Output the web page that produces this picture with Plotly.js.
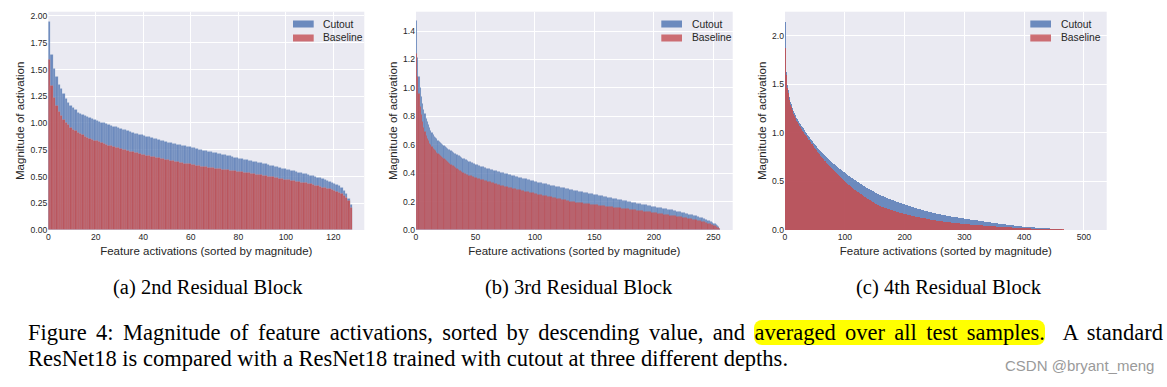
<!DOCTYPE html>
<html>
<head>
<meta charset="utf-8">
<script src="https://cdn.plot.ly/plotly-3.0.1.min.js"></script>
<style>
html,body{margin:0;padding:0;background:#fff;}
#wrap{position:relative;width:1167px;height:387px;overflow:hidden;background:#fff;}
#chart{position:absolute;left:0;top:0;width:1167px;height:387px;}
.cap{position:absolute;font-family:"Liberation Serif","Times New Roman",serif;font-size:22.5px;line-height:26px;color:#000;}
#cap1{left:28px;top:320px;width:1135px;text-align:justify;text-align-last:justify;}
#cap2{left:28px;top:346px;white-space:nowrap;}
.hl{background:#ffff00;border-radius:8px;}
#wm{position:absolute;left:1005px;top:357px;font-family:"Liberation Sans",Arial,sans-serif;font-size:15px;color:#9a9a9a;white-space:nowrap;}
</style>
</head>
<body>
<div id="wrap">
<div id="chart"></div>
<div class="cap" id="cap1">Figure 4: Magnitude of feature activations, sorted by descending value, and <span class="hl">averaged over all test samples.</span>&nbsp; A standard</div>
<div class="cap" id="cap2">ResNet18 is compared with a ResNet18 trained with cutout at three different depths.</div>
<div id="wm">CSDN @bryant_meng</div>
</div>
<script>
// ---------------- DATA ----------------
const seriesNames = ["Cutout", "Baseline"];
const xTitle = "Feature activations (sorted by magnitude)";
const yTitle = "Magnitude of activation";
const subCaptions = ["(a) 2nd Residual Block", "(b) 3rd Residual Block", "(c) 4th Residual Block"];

// (a) 2nd residual block: 128 channels
const p1Cutout = [1.95,1.64,1.51,1.43,1.36,1.32,1.27,1.23,1.19,1.16,
1.14,1.12,1.10,1.09,1.075,1.065,1.055,1.045,1.04,1.03,
1.025,1.015,1.005,1.0,0.99,0.985,0.978,0.97,0.963,0.956,
0.95,0.942,0.934,0.926,0.918,0.91,0.904,0.898,0.892,0.886,
0.88,0.874,0.868,0.862,0.856,0.85,0.844,0.838,0.832,0.826,
0.82,0.815,0.81,0.805,0.80,0.795,0.79,0.785,0.78,0.775,
0.77,0.765,0.76,0.755,0.75,0.745,0.74,0.735,0.73,0.725,
0.72,0.715,0.71,0.705,0.70,0.695,0.69,0.685,0.68,0.675,
0.67,0.665,0.66,0.655,0.65,0.645,0.64,0.635,0.63,0.625,
0.62,0.615,0.61,0.605,0.60,0.595,0.589,0.583,0.577,0.571,
0.565,0.56,0.555,0.55,0.545,0.54,0.534,0.528,0.522,0.516,
0.51,0.504,0.498,0.492,0.486,0.48,0.472,0.464,0.455,0.445,
0.435,0.425,0.41,0.395,0.37,0.34,0.29,0.235];
const p1Baseline = [1.59,1.35,1.24,1.16,1.11,1.07,1.03,1.00,0.98,0.96,
0.94,0.925,0.91,0.898,0.886,0.875,0.866,0.857,0.848,0.839,
0.83,0.822,0.814,0.806,0.798,0.79,0.784,0.778,0.772,0.766,
0.76,0.754,0.748,0.742,0.736,0.73,0.724,0.718,0.712,0.706,
0.70,0.696,0.691,0.687,0.682,0.678,0.673,0.669,0.664,0.66,
0.655,0.651,0.646,0.642,0.637,0.633,0.628,0.624,0.619,0.615,
0.61,0.606,0.603,0.599,0.596,0.592,0.589,0.585,0.582,0.578,
0.575,0.572,0.569,0.566,0.563,0.56,0.557,0.554,0.551,0.548,
0.545,0.541,0.538,0.534,0.531,0.527,0.524,0.52,0.517,0.513,
0.51,0.506,0.502,0.498,0.494,0.49,0.486,0.482,0.478,0.474,
0.47,0.466,0.462,0.458,0.454,0.45,0.446,0.442,0.438,0.434,
0.43,0.424,0.418,0.412,0.406,0.40,0.394,0.388,0.382,0.376,
0.37,0.36,0.35,0.34,0.325,0.305,0.27,0.21];

// (b) 3rd residual block: 256 channels
const p2Cutout = [1.47,1.21,1.08,1.00,0.935,0.89,0.85,0.815,0.785,0.76,
0.74,0.72,0.70,0.685,0.672,0.66,0.65,0.64,0.631,0.623,
0.615,0.608,0.601,0.594,0.587,0.58,0.574,0.568,0.562,0.556,
0.55,0.545,0.54,0.535,0.53,0.525,0.52,0.515,0.51,0.505,
0.50,0.496,0.492,0.488,0.484,0.48,0.476,0.472,0.468,0.464,
0.46,0.457,0.454,0.451,0.448,0.445,0.442,0.439,0.436,0.433,
0.43,0.428,0.425,0.423,0.421,0.418,0.416,0.414,0.411,0.409,
0.407,0.404,0.402,0.4,0.397,0.395,0.393,0.391,0.388,0.386,
0.384,0.382,0.38,0.377,0.375,0.373,0.371,0.369,0.366,0.364,
0.362,0.36,0.358,0.355,0.353,0.351,0.349,0.347,0.344,0.342,
0.34,0.338,0.336,0.334,0.332,0.331,0.329,0.327,0.325,0.323,
0.321,0.319,0.317,0.315,0.314,0.312,0.31,0.308,0.306,0.304,
0.302,0.3,0.299,0.297,0.295,0.293,0.291,0.289,0.288,0.286,
0.284,0.282,0.28,0.279,0.277,0.275,0.273,0.271,0.27,0.268,
0.266,0.264,0.262,0.261,0.259,0.257,0.255,0.253,0.252,0.25,
0.248,0.246,0.245,0.243,0.241,0.239,0.238,0.236,0.234,0.233,
0.231,0.229,0.227,0.226,0.224,0.222,0.221,0.219,0.217,0.215,
0.214,0.212,0.21,0.209,0.207,0.205,0.203,0.202,0.2,0.198,
0.197,0.195,0.193,0.192,0.19,0.188,0.186,0.185,0.183,0.181,
0.18,0.178,0.176,0.175,0.173,0.171,0.17,0.168,0.166,0.165,
0.163,0.161,0.16,0.158,0.157,0.155,0.154,0.152,0.151,0.149,
0.148,0.146,0.145,0.143,0.142,0.14,0.138,0.136,0.134,0.132,
0.13,0.128,0.126,0.124,0.122,0.12,0.118,0.116,0.113,0.111,
0.109,0.107,0.105,0.102,0.1,0.098,0.095,0.093,0.09,0.088,
0.085,0.082,0.078,0.075,0.072,0.068,0.064,0.06,0.056,0.052,
0.047,0.042,0.036,0.03,0.021,0.012];
const p2Baseline = [1.24,1.08,0.96,0.87,0.81,0.76,0.72,0.69,0.665,0.645,
0.625,0.61,0.598,0.586,0.575,0.565,0.555,0.546,0.537,0.528,
0.52,0.513,0.506,0.499,0.492,0.485,0.479,0.473,0.467,0.461,
0.455,0.449,0.443,0.437,0.431,0.425,0.42,0.414,0.409,0.403,
0.398,0.395,0.392,0.388,0.385,0.382,0.379,0.376,0.372,0.369,
0.366,0.364,0.361,0.359,0.356,0.354,0.352,0.349,0.347,0.344,
0.342,0.34,0.337,0.335,0.332,0.33,0.327,0.325,0.322,0.32,
0.317,0.315,0.312,0.31,0.307,0.305,0.303,0.301,0.299,0.297,
0.295,0.293,0.291,0.289,0.287,0.285,0.283,0.281,0.279,0.277,
0.275,0.273,0.271,0.269,0.267,0.265,0.263,0.261,0.259,0.257,
0.255,0.253,0.251,0.25,0.248,0.246,0.244,0.242,0.241,0.239,
0.237,0.235,0.233,0.232,0.23,0.228,0.226,0.224,0.223,0.221,
0.219,0.217,0.215,0.214,0.212,0.21,0.208,0.206,0.204,0.202,
0.2,0.199,0.198,0.196,0.195,0.194,0.193,0.192,0.191,0.19,
0.188,0.187,0.186,0.185,0.184,0.183,0.181,0.18,0.179,0.178,
0.177,0.176,0.175,0.174,0.173,0.172,0.17,0.169,0.168,0.167,
0.166,0.165,0.164,0.163,0.162,0.161,0.16,0.159,0.158,0.156,
0.155,0.154,0.153,0.152,0.151,0.15,0.149,0.148,0.147,0.146,
0.145,0.144,0.143,0.142,0.141,0.139,0.138,0.137,0.136,0.135,
0.134,0.132,0.131,0.13,0.129,0.128,0.127,0.126,0.125,0.123,
0.122,0.121,0.119,0.118,0.117,0.115,0.114,0.113,0.111,0.11,
0.108,0.107,0.106,0.104,0.103,0.102,0.1,0.099,0.098,0.096,
0.095,0.094,0.092,0.091,0.089,0.088,0.086,0.084,0.082,0.08,
0.079,0.077,0.075,0.073,0.071,0.069,0.067,0.066,0.064,0.062,
0.06,0.058,0.055,0.052,0.049,0.047,0.044,0.041,0.038,0.035,
0.032,0.028,0.024,0.019,0.014,0.008];

// (c) 4th residual block: 512 channels
const p3Cutout = [2.145,1.85,1.63,1.55,1.49,1.44,1.405,1.375,1.345,1.32,1.30,
1.28,1.262,1.244,1.227,1.21,1.196,1.183,1.17,1.157,1.145,
1.135,1.125,1.115,1.105,1.095,1.086,1.077,1.068,1.059,1.05,
1.04,1.031,1.022,1.012,1.003,0.994,0.985,0.976,0.967,0.958,
0.95,0.942,0.934,0.925,0.917,0.909,0.901,0.893,0.885,0.877,
0.87,0.863,0.856,0.849,0.842,0.836,0.829,0.822,0.815,0.808,
0.802,0.796,0.79,0.784,0.778,0.772,0.766,0.76,0.754,0.748,
0.742,0.736,0.731,0.725,0.719,0.713,0.707,0.702,0.696,0.69,
0.685,0.68,0.674,0.669,0.664,0.659,0.654,0.648,0.643,0.638,
0.633,0.628,0.624,0.619,0.614,0.609,0.604,0.6,0.595,0.59,
0.586,0.581,0.577,0.572,0.568,0.563,0.559,0.554,0.55,0.545,
0.541,0.536,0.532,0.527,0.523,0.518,0.514,0.509,0.505,0.5,
0.496,0.492,0.488,0.484,0.48,0.476,0.472,0.468,0.464,0.46,
0.457,0.453,0.45,0.446,0.443,0.439,0.436,0.432,0.429,0.425,
0.422,0.418,0.415,0.411,0.408,0.404,0.401,0.397,0.394,0.39,
0.387,0.384,0.381,0.378,0.375,0.372,0.369,0.366,0.363,0.36,
0.357,0.355,0.352,0.349,0.347,0.344,0.341,0.338,0.336,0.333,
0.331,0.328,0.326,0.324,0.321,0.319,0.317,0.315,0.312,0.31,
0.308,0.305,0.303,0.301,0.298,0.296,0.294,0.292,0.289,0.287,
0.285,0.283,0.28,0.278,0.276,0.274,0.272,0.269,0.267,0.265,
0.263,0.261,0.259,0.257,0.255,0.253,0.251,0.249,0.247,0.245,
0.243,0.241,0.239,0.237,0.235,0.233,0.231,0.229,0.227,0.225,
0.223,0.222,0.22,0.218,0.217,0.215,0.213,0.212,0.21,0.208,
0.207,0.205,0.203,0.202,0.2,0.198,0.197,0.195,0.193,0.192,
0.19,0.188,0.187,0.185,0.183,0.182,0.18,0.178,0.177,0.175,
0.174,0.173,0.171,0.17,0.169,0.168,0.167,0.165,0.164,0.163,
0.162,0.161,0.159,0.158,0.157,0.156,0.155,0.153,0.152,0.151,
0.15,0.149,0.147,0.146,0.145,0.144,0.143,0.142,0.141,0.14,
0.139,0.138,0.137,0.136,0.135,0.134,0.133,0.132,0.131,0.13,
0.129,0.128,0.127,0.126,0.125,0.124,0.123,0.122,0.121,0.12,
0.119,0.118,0.117,0.116,0.115,0.114,0.114,0.113,0.112,0.111,
0.11,0.109,0.108,0.107,0.106,0.105,0.104,0.103,0.102,0.101,
0.101,0.1,0.099,0.098,0.097,0.096,0.095,0.094,0.093,0.093,
0.092,0.091,0.09,0.089,0.088,0.087,0.086,0.086,0.085,0.084,
0.083,0.082,0.081,0.08,0.079,0.079,0.078,0.077,0.076,0.075,
0.074,0.073,0.073,0.072,0.071,0.07,0.069,0.069,0.068,0.067,
0.066,0.065,0.065,0.064,0.063,0.062,0.061,0.061,0.06,0.059,
0.058,0.057,0.057,0.056,0.055,0.054,0.054,0.053,0.052,0.051,
0.051,0.05,0.049,0.049,0.048,0.047,0.046,0.046,0.045,0.044,
0.043,0.043,0.042,0.041,0.041,0.04,0.039,0.038,0.038,0.037,
0.037,0.036,0.036,0.035,0.035,0.034,0.034,0.033,0.033,0.032,
0.032,0.031,0.031,0.03,0.03,0.029,0.029,0.028,0.028,0.027,
0.027,0.026,0.026,0.025,0.025,0.025,0.024,0.024,0.024,0.023,
0.023,0.022,0.022,0.022,0.021,0.021,0.021,0.02,0.02,0.02,
0.019,0.019,0.019,0.018,0.018,0.018,0.018,0.017,0.017,0.017,
0.017,0.016,0.016,0.016,0.015,0.015,0.015,0.014,0.014,0.014,
0.013,0.013,
0,0,0,0,0,0,0,0,0,0,
0,0,0,0,0,0,0,0,0,0,
0,0,0,0,0,0,0,0,0,0,
0,0,0,0,0,0,0,0,0,0,
0,0,0,0,0,0,0,0,0];
const p3Baseline = [1.88,1.68,1.6,1.52,1.46,1.41,1.375,1.345,1.315,1.29,1.27,
1.252,1.234,1.216,1.198,1.18,1.166,1.152,1.138,1.124,1.11,
1.1,1.09,1.08,1.07,1.06,1.05,1.04,1.03,1.02,1.01,
1.002,0.993,0.985,0.976,0.968,0.959,0.951,0.942,0.934,0.925,
0.917,0.908,0.9,0.891,0.883,0.874,0.866,0.857,0.849,0.84,
0.832,0.824,0.816,0.808,0.8,0.792,0.784,0.776,0.768,0.76,
0.753,0.746,0.739,0.732,0.725,0.718,0.711,0.704,0.697,0.69,
0.684,0.677,0.671,0.664,0.658,0.651,0.645,0.638,0.632,0.625,
0.619,0.612,0.606,0.599,0.593,0.586,0.58,0.573,0.567,0.56,
0.554,0.548,0.542,0.536,0.53,0.524,0.518,0.512,0.506,0.5,
0.495,0.49,0.484,0.479,0.474,0.469,0.464,0.458,0.453,0.448,
0.443,0.438,0.434,0.429,0.424,0.419,0.414,0.41,0.405,0.4,
0.396,0.391,0.387,0.382,0.378,0.373,0.369,0.364,0.36,0.355,
0.351,0.347,0.343,0.339,0.335,0.331,0.327,0.323,0.319,0.315,
0.311,0.308,0.304,0.3,0.297,0.293,0.289,0.285,0.282,0.278,
0.275,0.271,0.268,0.265,0.262,0.258,0.255,0.252,0.248,0.245,
0.243,0.241,0.238,0.236,0.234,0.232,0.23,0.227,0.225,0.223,
0.221,0.219,0.217,0.215,0.213,0.211,0.209,0.207,0.205,0.203,
0.201,0.199,0.198,0.196,0.194,0.192,0.19,0.189,0.187,0.185,
0.183,0.181,0.18,0.178,0.176,0.174,0.172,0.171,0.169,0.167,
0.166,0.164,0.163,0.161,0.16,0.158,0.157,0.155,0.154,0.152,
0.151,0.15,0.148,0.147,0.145,0.144,0.142,0.141,0.139,0.138,
0.137,0.136,0.134,0.133,0.132,0.131,0.13,0.129,0.127,0.126,
0.125,0.124,0.123,0.122,0.12,0.119,0.118,0.117,0.116,0.115,
0.113,0.112,0.111,0.11,0.109,0.108,0.106,0.105,0.104,0.103,
0.102,0.101,0.1,0.1,0.099,0.098,0.097,0.096,0.095,0.095,
0.094,0.093,0.092,0.091,0.09,0.09,0.089,0.088,0.087,0.086,
0.085,0.085,0.084,0.083,0.082,0.081,0.081,0.08,0.079,0.079,
0.078,0.077,0.077,0.076,0.075,0.074,0.074,0.073,0.072,0.072,
0.071,0.07,0.07,0.069,0.068,0.067,0.067,0.066,0.065,0.065,
0.064,0.064,0.063,0.063,0.062,0.061,0.061,0.06,0.06,0.059,
0.059,0.058,0.058,0.057,0.057,0.056,0.056,0.055,0.055,0.054,
0.054,0.053,0.053,0.052,0.052,0.052,0.051,0.051,0.05,0.05,
0.049,0.049,0.048,0.048,0.047,0.047,0.046,0.046,0.046,0.045,
0.045,0.044,0.044,0.043,0.043,0.042,0.042,0.042,0.041,0.041,
0.04,0.04,0.039,0.039,0.039,0.038,0.038,0.037,0.037,0.036,
0.036,0.036,0.035,0.035,0.034,0.034,0.033,0.033,0.033,0.032,
0.032,0.031,0.031,0.03,0.03,0.03,0.029,0.029,0.029,0.028,
0.028,0.028,0.027,0.027,0.026,0.026,0.026,0.025,0.025,0.025,
0.024,0.024,0.024,0.023,0.023,0.023,0.022,0.022,0.022,0.021,
0.021,0.021,0.02,0.02,0.02,0.02,0.019,0.019,0.019,0.019,
0.018,0.018,0.018,0.018,0.017,0.017,0.017,0.017,0.016,0.016,
0.016,0.016,0.015,0.015,0.015,0.015,0.015,0.014,0.014,0.014,
0.014,0.013,0.013,0.013,0.013,0.013,0.012,0.012,0.012,0.012,
0.012,0.011,0.011,0.011,0.011,0.011,0.01,0.01,0.01,0.01,
0.01,0.01,0.01,0.01,0.01,0.009,0.009,0.009,0.009,0.009,
0.009,0.009,0.009,0.009,0.009,0.009,0.008,0.008,0.008,0.008,
0.008,0.008,0.008,0.008,0.008,0.008,0.008,0.008,0.008,0.008,
0.007,0.007,0.007,0.007,0.007,0.007,0.007,0.007,0.007,0.007,
0.007,0.007,0.007,0.006,0.006,0.006,0.006,0.006,0.006,0.006,
0.006,0.006,0.006,0.006,0.005,0.005,0.005,0.005,0.005,0.005,0.005];

// tick values / labels
const p1XTicks = [0, 20, 40, 60, 80, 100, 120];
const p2XTicks = [0, 50, 100, 150, 200, 250];
const p3XTicks = [0, 100, 200, 300, 400, 500];
const p1YTicks = [0, 0.25, 0.5, 0.75, 1.0, 1.25, 1.5, 1.75, 2.0];
const p1YLabels = ["0.00","0.25","0.50","0.75","1.00","1.25","1.50","1.75","2.00"];
const p2YTicks = [0, 0.2, 0.4, 0.6, 0.8, 1.0, 1.2, 1.4];
const p2YLabels = ["0.0","0.2","0.4","0.6","0.8","1.0","1.2","1.4"];
const p3YTicks = [0, 0.5, 1.0, 1.5, 2.0];
const p3YLabels = ["0.0","0.5","1.0","1.5","2.0"];

// ---------------- STYLE / LAYOUT ----------------
const W = 1167, H = 387;
const SANS = '"Liberation Sans", Arial, Helvetica, sans-serif';
const SERIF = '"Liberation Serif", "Times New Roman", serif';
const TXT = '#262626';
const BLUE = 'rgba(76,114,176,0.8)';
const RED_BAR = 'rgba(196,78,82,0.88)';
const RED_KEY = 'rgba(196,78,82,0.8)';
const TOP = 11.7, BOT = 230;

const panels = [
  {cut: p1Cutout, base: p1Baseline, xt: p1XTicks, yt: p1YTicks, yl: p1YLabels, sep: 0.35,
   left: 48.3, right: 364.3, xmax: 133.0, ymax: 2.04, capX: 208, legPatch: 293, legText: 321},
  {cut: p2Cutout, base: p2Baseline, xt: p2XTicks, yt: p2YTicks, yl: p2YLabels, sep: 0.15,
   left: 416, right: 732.7, xmax: 266.3, ymax: 1.536, capX: 579, legPatch: 661.3, legText: 690.3},
  {cut: p3Cutout, base: p3Baseline, xt: p3XTicks, yt: p3YTicks, yl: p3YLabels, sep: 0,
   left: 785, right: 1106.7, xmax: 538, ymax: 2.246, capX: 949, legPatch: 1030.3, legText: 1058.7}
];

const px = p => p / W;
const py = p => 1 - p / H;

const traces = [];
const layout = {
  width: W, height: H,
  margin: {l: 0, r: 0, t: 0, b: 0, pad: 0},
  paper_bgcolor: 'rgba(0,0,0,0)',
  plot_bgcolor: '#EAEAF2',
  barmode: 'overlay',
  bargap: 0,
  showlegend: false,
  font: {family: SANS, color: TXT},
  shapes: [],
  annotations: []
};

panels.forEach((p, k) => {
  const s = k === 0 ? '' : String(k + 1);
  const idxC = p.cut.map((_, i) => i);
  const idxB = p.base.map((_, i) => i);
  const edge = {width: p.sep, color: 'rgba(234,234,242,0.35)'};
  traces.push({
    type: 'bar', name: seriesNames[0], x: idxC, y: p.cut, width: 1, offset: 0,
    xaxis: 'x' + s, yaxis: 'y' + s,
    marker: {color: BLUE, line: edge}, hoverinfo: 'skip'
  });
  traces.push({
    type: 'bar', name: seriesNames[1], x: idxB, y: p.base, width: 1, offset: 0,
    xaxis: 'x' + s, yaxis: 'y' + s,
    marker: {color: RED_BAR, line: edge}, hoverinfo: 'skip'
  });
  layout['xaxis' + s] = {
    domain: [px(p.left), px(p.right)], anchor: 'y' + s,
    range: [0, p.xmax], tickmode: 'array', tickvals: p.xt, ticktext: p.xt.map(String),
    showgrid: true, gridcolor: '#ffffff', gridwidth: 1, zeroline: false, showline: false,
    ticks: '', tickfont: {family: SANS, size: 8.6, color: TXT},
    title: {text: xTitle, font: {family: SANS, size: 11.5, color: TXT}, standoff: 6},
    fixedrange: true
  };
  layout['yaxis' + s] = {
    domain: [py(BOT), py(TOP)], anchor: 'x' + s,
    range: [0, p.ymax], tickmode: 'array', tickvals: p.yt, ticktext: p.yl,
    showgrid: true, gridcolor: '#ffffff', gridwidth: 1, zeroline: false, showline: false,
    ticks: '', tickfont: {family: SANS, size: 8.6, color: TXT},
    title: {text: yTitle, font: {family: SANS, size: 11.5, color: TXT}, standoff: 3},
    fixedrange: true
  };
  // legend handles, drawn like the matplotlib legend patches
  layout.shapes.push({type: 'rect', xref: 'paper', yref: 'paper', layer: 'above',
    x0: px(p.legPatch), x1: px(p.legPatch + 20.7), y0: py(27.5), y1: py(20.5),
    fillcolor: BLUE, line: {width: 0}});
  layout.shapes.push({type: 'rect', xref: 'paper', yref: 'paper', layer: 'above',
    x0: px(p.legPatch), x1: px(p.legPatch + 20.7), y0: py(41.5), y1: py(34.5),
    fillcolor: RED_KEY, line: {width: 0}});
  layout.annotations.push({xref: 'paper', yref: 'paper', x: px(p.legText), y: py(24),
    xanchor: 'left', yanchor: 'middle', showarrow: false, text: seriesNames[0],
    font: {family: SANS, size: 10.3, color: TXT}});
  layout.annotations.push({xref: 'paper', yref: 'paper', x: px(p.legText), y: py(38),
    xanchor: 'left', yanchor: 'middle', showarrow: false, text: seriesNames[1],
    font: {family: SANS, size: 10.3, color: TXT}});
  // sub-captions
  layout.annotations.push({xref: 'paper', yref: 'paper', x: px(p.capX), y: py(287),
    xanchor: 'center', yanchor: 'middle', showarrow: false, text: subCaptions[k],
    font: {family: SERIF, size: 20.5, color: '#000'}});
});

Plotly.newPlot('chart', traces, layout, {displayModeBar: false, responsive: false});
</script>
</body>
</html>
